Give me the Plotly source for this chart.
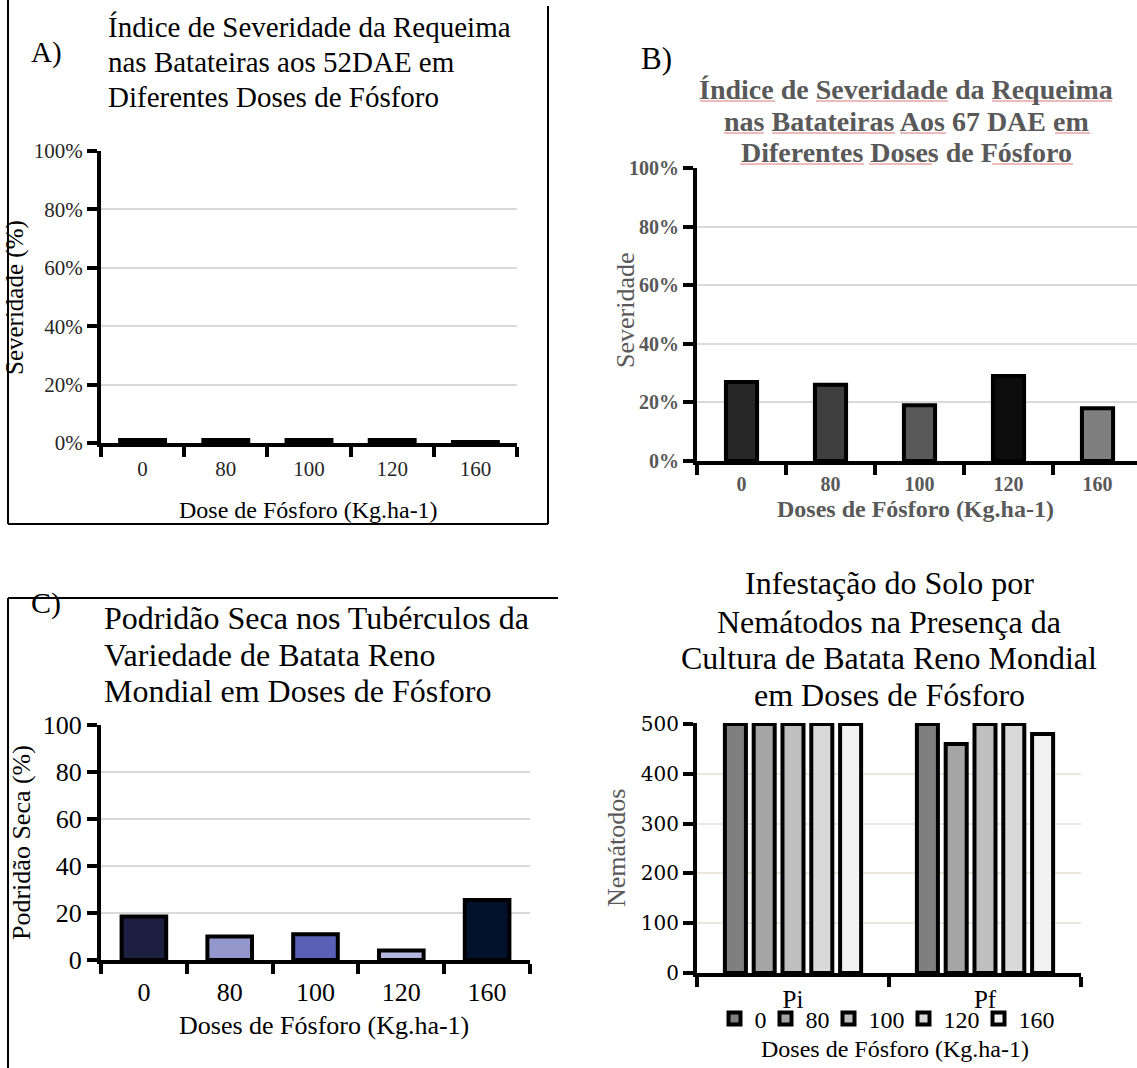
import plotly.graph_objects as go

W, H = 1137, 1068
SERIF = "Liberation Serif, Times New Roman, serif"
GRAY_TXT = "#595959"

# Doses de fósforo (kg/ha) shared by every panel
doses = ["0", "80", "100", "120", "160"]

# A) Severidade da requeima aos 52 DAE (%)
sev_52dae = [1.0, 1.0, 1.0, 1.0, 0.3]
# B) Severidade da requeima aos 67 DAE (%)
sev_67dae = [27.0, 26.0, 19.0, 29.0, 18.0]
# C) Podridão seca nos tubérculos (%)
podridao = [18.5, 10.0, 11.0, 4.0, 25.5]
# D) Nemátodos no solo: população inicial (Pi) e final (Pf)
periodos = ["Pi", "Pf"]
nem_pi = [500, 500, 500, 500, 500]
nem_pf = [500, 460, 500, 500, 480]

# Y tick values and labels
pct_ticks = [0, 20, 40, 60, 80, 100]
pct_labels = ["0%", "20%", "40%", "60%", "80%", "100%"]
nem_ticks = [0, 100, 200, 300, 400, 500]

colors_b = ["#262626", "#3f3f3f", "#595959", "#0d0d0d", "#7f7f7f"]
colors_c = ["#1c1f3f", "#9497cc", "#5a60b6", "#b4b6e0", "#03122c"]
colors_d = ["#7f7f7f", "#a5a5a5", "#bfbfbf", "#d9d9d9", "#f2f2f2"]


def px(x):
    return x / W


def py(y):
    return 1 - y / H


fig = go.Figure()

outline = dict(color="black", width=4)

fig.add_trace(go.Bar(x=doses, y=sev_52dae, xaxis="x", yaxis="y", width=0.54,
                     marker=dict(color="#808080", line=outline), showlegend=False))
fig.add_trace(go.Bar(x=doses, y=sev_67dae, xaxis="x2", yaxis="y2", width=0.35,
                     marker=dict(color=colors_b, line=outline), showlegend=False))
fig.add_trace(go.Bar(x=doses, y=podridao, xaxis="x3", yaxis="y3", width=0.52,
                     marker=dict(color=colors_c, line=outline), showlegend=False))

LEGEND_SIZE = 24
for i, dose in enumerate(doses):
    # compact legend entries; the last one keeps its full text width
    text_w = LEGEND_SIZE * 0.5 * len(dose)
    entry = text_w if i == len(doses) - 1 else max(text_w - 6, 2)
    fig.add_trace(go.Bar(x=periodos, y=[nem_pi[i], nem_pf[i]], name=dose,
                         xaxis="x4", yaxis="y4", legendwidth=entry,
                         marker=dict(color=colors_d[i], line=outline)))


def x_axis(x0, x1, y_anchor, font, rng, standoff=4):
    return dict(domain=[px(x0), px(x1)], anchor=y_anchor, type="category",
                range=rng, showline=True, linewidth=4, linecolor="black",
                ticks="outside", ticklen=10, tickwidth=4, tickcolor="black",
                tickson="boundaries", showgrid=False, tickfont=font,
                ticklabelstandoff=standoff, fixedrange=True, automargin=False)


def y_axis(y_top, y_bot, x_anchor, font, rng, tickvals, ticktext=None,
           grid="#d9d9d9"):
    ax = dict(domain=[py(y_bot), py(y_top)], anchor=x_anchor, range=rng,
              tickvals=tickvals, showline=True, linewidth=4,
              linecolor="black", ticks="outside", ticklen=10, tickwidth=4,
              tickcolor="black", showgrid=True, gridcolor=grid, gridwidth=2,
              zeroline=False, tickfont=font, fixedrange=True, automargin=False)
    if ticktext is not None:
        ax["ticktext"] = ticktext
    return ax


font_a = dict(family=SERIF, size=21, color="#262626")
font_b = dict(family=SERIF, size=20, color=GRAY_TXT, weight="bold")
font_c = dict(family=SERIF, size=26, color="black")
font_d_y = dict(family="DejaVu Serif", size=20, color="black")
font_d_x = dict(family=SERIF, size=25, color="black")

fig.update_layout(
    width=W, height=H, autosize=False,
    margin=dict(l=0, r=0, t=0, b=0, pad=0, autoexpand=False),
    paper_bgcolor="white", plot_bgcolor="white",
    barmode="group", bargap=0.25, bargroupgap=0.27,
    xaxis=x_axis(101, 517, "y", font_a, [-0.5, 4.5]),
    yaxis=y_axis(151, 443, "x", font_a, [0, 100], pct_ticks, pct_labels),
    xaxis2=x_axis(697, W, "y2", font_b, [-0.5, -0.5 + 440 / 89], standoff=2),
    yaxis2=y_axis(168, 461, "x2", font_b, [0, 100], pct_ticks, pct_labels),
    xaxis3=x_axis(101, 530, "y3", font_c, [-0.5, 4.5], standoff=6),
    yaxis3=y_axis(725, 960, "x3", font_c, [0, 100], pct_ticks),
    xaxis4=x_axis(697, 1081, "y4", font_d_x, [-0.5, 1.5], standoff=1),
    yaxis4=y_axis(723, 973, "x4", font_d_y, [0, 502], nem_ticks, grid="#ece8dc"),
    legend=dict(orientation="h", x=px(887), xanchor="center", y=py(1019),
                yanchor="middle",
                font=dict(family=SERIF, size=LEGEND_SIZE, color="black"),
                itemwidth=30, bgcolor="rgba(0,0,0,0)", traceorder="normal"),
)


def note(text, x, y, size, color="black", xanchor="center", angle=0, bold=False):
    fig.add_annotation(text=text, x=px(x), y=py(y), xref="paper", yref="paper",
                       showarrow=False, xanchor=xanchor, yanchor="middle",
                       textangle=angle,
                       font=dict(family=SERIF, size=size, color=color,
                                 weight="bold" if bold else "normal"))


# Panel A
note("A)", 29, 53, 29, xanchor="left")
for text, y in zip(["Índice de Severidade da Requeima",
                    "nas Batateiras aos 52DAE em",
                    "Diferentes Doses de Fósforo"], [27, 62, 97]):
    note(text, 106, y, 29, xanchor="left")
note("Severidade (%)", 15, 298, 25, angle=-90)
note("Dose de Fósforo (Kg.ha-1)", 308, 510, 24)

# Panel B
note("B)", 639, 58, 31, xanchor="left")
for text, y in zip(["Índice de Severidade da Requeima",
                    "nas Batateiras Aos 67 DAE em",
                    "Diferentes Doses de Fósforo"], [90, 122, 153]):
    note(text, 906, y, 28, color=GRAY_TXT, bold=True)
note("Severidade", 626, 310, 26, color=GRAY_TXT, angle=-90)
note("Doses de Fósforo (Kg.ha-1)", 915, 509, 24, color=GRAY_TXT, bold=True)

# spell-check style underlines beneath the words of the B title
squiggle = dict(color="#eaa3a3", width=1.5)
for y, spans in [(101, [(700, 775), (816, 948), (992, 1112)]),
                 (133, [(724, 764), (772, 895), (900, 946), (1055, 1090)]),
                 (164, [(740, 864), (869, 932), (992, 1073)])]:
    for x0, x1 in spans:
        fig.add_shape(type="line", xref="paper", yref="paper",
                      x0=px(x0), x1=px(x1), y0=py(y), y1=py(y), line=squiggle)

# Panel C
note("C)", 29, 603, 30, xanchor="left")
for text, y in zip(["Podridão Seca nos Tubérculos da",
                    "Variedade de Batata Reno",
                    "Mondial em Doses de Fósforo"], [618, 655, 691]):
    note(text, 102, y, 32, xanchor="left")
note("Podridão Seca (%)", 21, 843, 26, angle=-90)
note("Doses de Fósforo (Kg.ha-1)", 324, 1025, 26)

# Panel D
for text, y in zip(["Infestação do Solo por",
                    "Nemátodos na Presença da",
                    "Cultura de Batata Reno Mondial",
                    "em Doses de Fósforo"], [583, 622, 658, 695]):
    note(text, 889, y, 32)
note("Nemátodos", 616, 848, 26, color=GRAY_TXT, angle=-90)
note("Doses de Fósforo (Kg.ha-1)", 895, 1049, 24)

# Frames around panels A and C
frame = dict(color="black", width=2)
for x0, y0, x1, y1 in [(8, 0, 8, 524), (8, 524, 548, 524), (548, 6, 548, 524),
                       (8, 598, 558, 598), (8, 598, 8, H)]:
    fig.add_shape(type="line", xref="paper", yref="paper",
                  x0=px(x0), y0=py(y0), x1=px(x1), y1=py(y1), line=frame)

fig.write_html("out.html")
